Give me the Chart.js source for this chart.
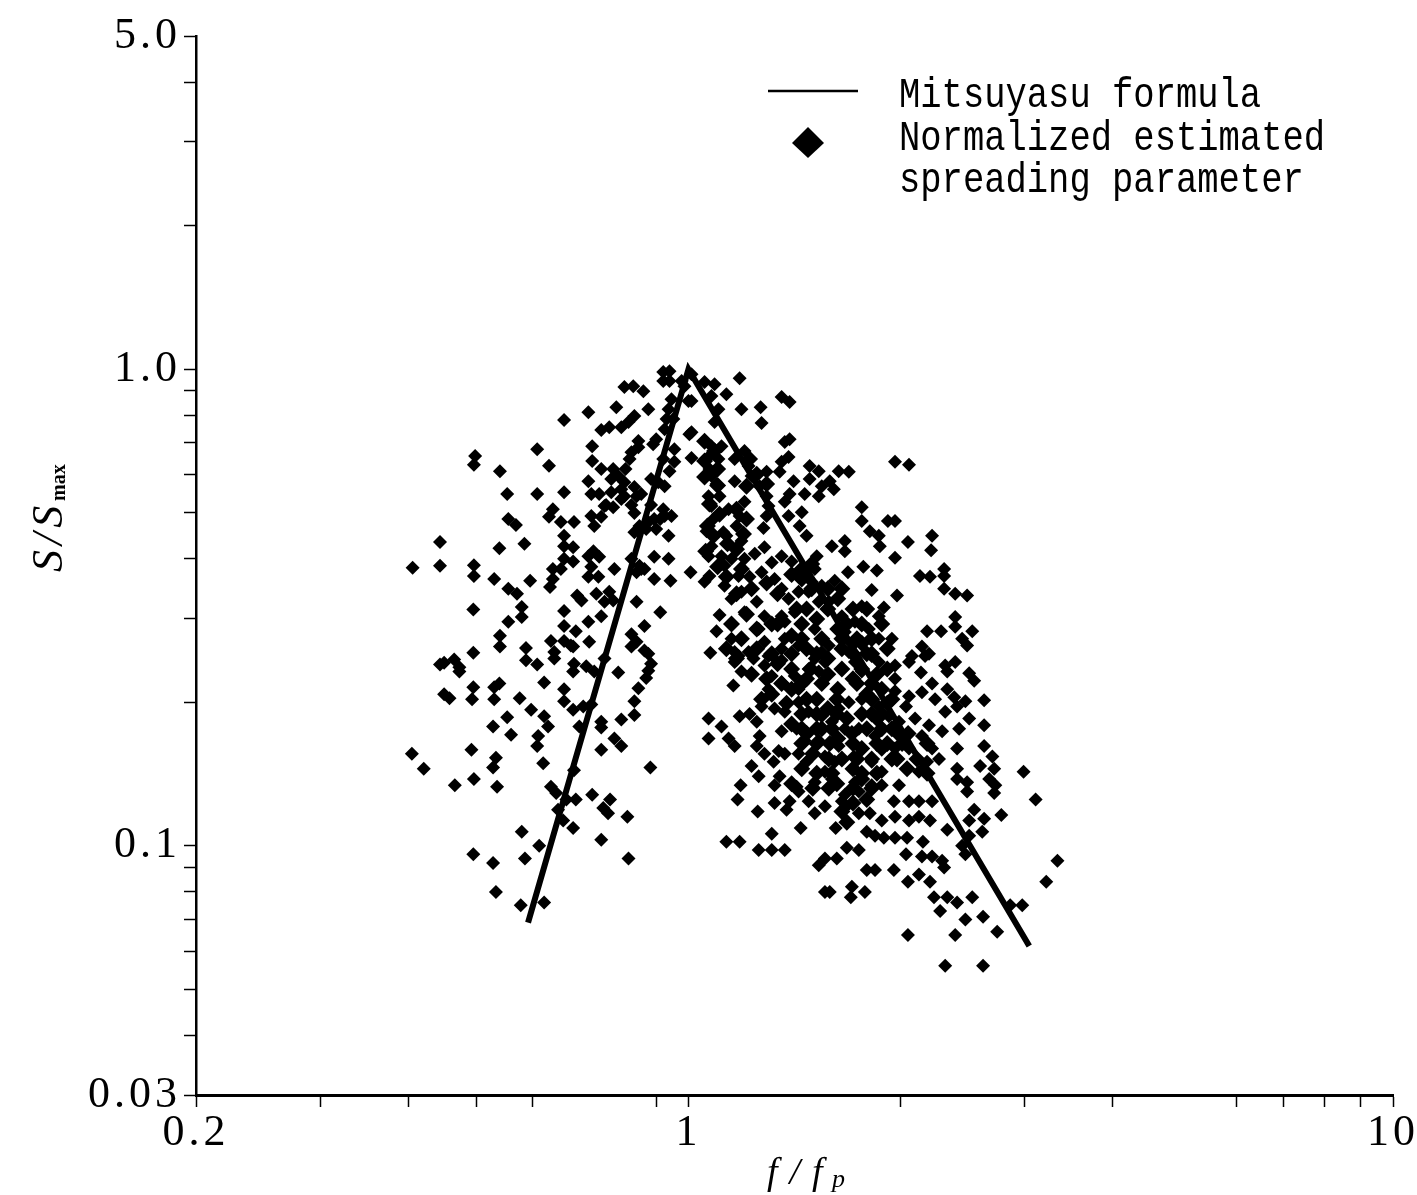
<!DOCTYPE html>
<html>
<head>
<meta charset="utf-8">
<title>S/Smax vs f/fp</title>
<script src="https://cdn.jsdelivr.net/npm/chart.js@4"></script>
<style>
  html, body { margin: 0; padding: 0; background: #fff; }
  canvas { display: block; }
</style>
</head>
<body>
<canvas id="mycanvas" width="1417" height="1195"></canvas>
<script>
var xTicks = [0.2, 0.3, 0.4, 0.5, 0.6, 0.9, 1, 2, 3, 4, 6, 7, 8, 9, 10];
var xLabels = { 0.2: '0.2', 1: '1', 10: '10' };
var yTicks = [5, 4, 3, 2, 1, 0.9, 0.8, 0.7, 0.6, 0.5, 0.4, 0.3, 0.2, 0.1, 0.09, 0.08, 0.07, 0.06, 0.05, 0.04, 0.03];
var yLabels = { 5: '5.0', 1: '1.0', 0.1: '0.1', 0.03: '0.03' };

var lineFreq = [0.592, 1, 3.046];
var lineSpread = [0.069, 1, 0.0616];

// f/fp below the peak, [f/fp, S/Smax]
var pointsBelowPeak = [
  [.921,.986],[.94,.99],[.921,.944],[.94,.944],[.978,.944],[.811,.917],[.835,.921],[.863,.899],[.79,.832],[.721,.812],
  [.666,.782],[.877,.824],[.838,.797],[.822,.775],[.803,.755],[.772,.755],[.752,.745],[.946,.865],[.937,.824],[.931,.786],
  [.925,.748],[1.0,.857],[.849,.707],[.83,.669],[.849,.686],[.825,.648],[.891,.696],[.73,.689],[.61,.679],[.498,.657],
  [.496,.63],[.54,.611],[.634,.627],[.73,.642],[.955,.679],[.955,.639],[.94,.611],[.921,.648],[.752,.617],[.782,.617],
  [.795,.597],[.721,.582],[.811,.579],[.838,.566],[.844,.541],[.811,.541],[.777,.552],[.747,.547],[.728,.547],[.76,.516],
  [.782,.513],[.803,.534],[.553,.547],[.61,.547],[.666,.552],[.925,.568],[.906,.579],[.642,.508],[.634,.49],[.659,.478],
  [.688,.478],[.728,.492],[.735,.469],[.752,.49],[.838,.499],[.555,.485],[.569,.471],[.925,.492],[.894,.485],[.877,.478],
  [.946,.492],[.852,.469],[.838,.455],[.921,.508],[.666,.447],[.666,.425],[.686,.423],[.937,.447],[.444,.434],[.539,.421],
  [.585,.43],[.733,.415],[.721,.405],[.747,.404],[.728,.385],[.721,.367],[.745,.367],[.894,.404],[.937,.40],[.852,.387],
  [.83,.40],[.866,.381],[.844,.375],[.406,.383],[.444,.387],[.496,.388],[.496,.368],[.666,.40],[.686,.395],[.642,.381],
  [.659,.381],[.642,.363],[.636,.349],[.785,.381],[.53,.363],[.596,.36],[.894,.363],[.943,.36],[.555,.346],[.571,.338],
  [.695,.335],[.705,.327],[.74,.338],[.772,.341],[.76,.325],[.782,.327],[.844,.325],[.495,.313],[.58,.317],[.58,.302],
  [.666,.311],[.912,.309],[.555,.295],[.752,.303],[.721,.295],[.666,.289],[.692,.282],[.866,.289],[.83,.278],[.844,.268],
  [.54,.276],[.54,.262],[.638,.269],[.666,.269],[.723,.268],[.588,.26],[.495,.254],[.83,.262],[.866,.257],[.645,.255],
  [.681,.263],[.45,.242],[.465,.246],[.444,.24],[.473,.237],[.473,.232],[.645,.247],[.686,.262],[.61,.24],[.588,.245],
  [.688,.241],[.716,.238],[.735,.232],[.686,.232],[.877,.253],[.885,.241],[.877,.233],[.795,.231],[.76,.247],[.871,.225],
  [.849,.214],[.838,.201],[.838,.188],[.624,.22],[.666,.213],[.666,.201],[.495,.215],[.493,.203],[.53,.215],[.539,.219],
  [.53,.203],[.45,.208],[.458,.204],[.576,.204],[.598,.193],[.686,.193],[.709,.196],[.728,.198],[.624,.187],[.632,.178],
  [.612,.17],[.61,.162],[.553,.186],[.528,.178],[.56,.171],[.752,.182],[.752,.177],[.803,.184],[.70,.178],[.785,.168],
  [.803,.162],[.492,.159],[.752,.159],[.405,.156],[.533,.153],[.528,.146],[.622,.149],[.421,.145],[.883,.146],[.688,.144],
  [.466,.134],[.496,.138],[.535,.133],[.638,.133],[.649,.129],[.692,.125],[.671,.125],[.73,.128],[.774,.125],[.757,.12],
  [.769,.117],[.819,.115],[.653,.119],[.664,.113],[.686,.109],[.58,.107],[.752,.103],[.614,.1],[.495,.096],[.586,.094],
  [.528,.092],[.822,.094],[.533,.08],[.578,.075],[.624,.076],
  [.777,.588],[.803,.56],[.764,.519],[.83,.519],[.814,.617],[.857,.547],[.885,.588],[.90,.713],[.952,.786],[.885,.519],
  [.912,.485],[.871,.462],[.90,.462],[.857,.381]
];

// f/fp at and above the peak, [f/fp, S/Smax]
var pointsAbovePeak = [
  [1.01,.976],[.987,.921],[1.054,.94],[1.089,.93],[1.182,.957],[1.078,.878],[1.103,.824],[1.089,.775],[1.132,.886],[1.01,.857],
  [1.189,.824],[1.266,.832],[1.27,.771],[1.356,.874],[1.392,.853],[1.01,.737],[1.003,.73],[1.37,.703],[1.392,.713],[1.078,.689],
  [1.114,.689],[1.071,.657],[1.103,.648],[1.071,.617],[1.096,.574],[1.078,.597],[1.201,.673],[1.163,.648],[1.217,.626],[1.229,.597],
  [1.163,.582],[1.262,.568],[1.291,.541],[1.291,.609],[1.01,.651],[1.387,.654],[1.356,.639],[1.347,.609],[1.486,.626],[1.531,.611],
  [1.486,.588],[1.41,.582],[1.634,.611],[1.689,.609],[1.587,.582],[1.546,.568],[1.608,.56],[1.531,.541],[1.964,.639],[2.056,.63],
  [1.392,.547],[1.37,.527],[1.387,.492],[1.462,.547],[1.068,.541],[1.107,.541],[1.078,.516],[1.085,.485],[1.201,.527],[1.182,.492],
  [1.14,.508],[1.17,.469],[1.121,.455],[1.448,.501],[1.438,.469],[1.471,.447],[1.299,.516],[1.291,.492],[1.278,.464],[1.762,.513],
  [1.762,.48],[1.919,.48],[1.964,.48],[1.809,.457],[1.863,.447],[1.869,.425],[1.061,.457],[1.132,.447],[1.189,.436],[2.049,.434],
  [2.217,.447],[2.21,.417],[1.667,.436],[1.598,.425],[1.667,.415],[1.078,.425],[1.068,.405],[1.114,.405],[1.282,.423],[1.242,.41],
  [1.201,.40],[1.151,.40],[1.521,.405],[1.356,.405],[1.401,.395],[1.313,.393],[1.964,.402],[1.125,.387],[1.771,.385],[1.851,.378],
  [1.684,.375],[1.613,.36],[1.007,.375],[1.071,.368],[1.054,.358],[1.511,.381],[1.462,.368],[1.546,.351],[2.131,.368],[2.202,.367],
  [2.306,.381],[2.306,.368],[2.306,.346],[1.178,.368],[1.27,.375],[1.221,.367],[1.325,.363],[1.125,.351],[1.151,.33],[1.189,.341],
  [1.356,.346],[1.82,.344],[1.977,.335],[2.391,.338],[2.486,.335],[1.496,.358],[1.433,.341],[1.25,.325],[1.201,.309],[1.282,.303],
  [1.387,.33],[1.356,.303],[1.415,.309],[1.481,.341],[1.582,.325],[1.651,.303],[1.531,.325],[1.762,.318],[1.863,.303],[1.894,.316],
  [1.944,.272],[1.107,.305],[2.391,.302],[2.391,.288],[2.181,.282],[2.283,.282],[2.528,.282],[2.446,.272],[2.486,.263],[1.096,.282],
  [1.258,.285],[1.282,.268],[1.151,.272],[1.217,.255],[1.37,.295],[1.37,.272],[1.433,.263],[1.511,.285],[1.582,.263],[1.667,.281],
  [1.723,.295],[1.803,.285],[1.863,.272],[1.074,.254],[2.145,.262],[2.195,.253],[2.076,.25],[1.163,.255],[1.356,.259],[1.546,.255],
  [1.689,.255],[1.82,.25],[1.178,.25],[1.237,.247],[1.299,.25],[1.163,.243],[1.189,.232],[1.282,.239],[1.356,.245],[1.511,.247],
  [1.562,.243],[1.158,.217],[1.964,.239],[2.056,.243],[1.964,.224],[1.964,.211],[2.167,.25],[2.314,.239],[2.391,.243],[2.33,.232],
  [2.138,.231],[2.503,.23],[2.544,.222],[2.217,.219],[2.33,.213],[2.384,.205],[2.472,.201],[2.628,.202],[2.406,.196],[1.313,.227],
  [1.299,.213],[1.356,.22],[1.415,.227],[1.481,.235],[1.531,.232],[1.433,.213],[1.546,.22],[1.651,.235],[1.723,.243],[1.762,.232],
  [1.82,.22],[1.863,.243],[2.056,.206],[2.145,.21],[2.239,.203],[2.314,.191],[2.036,.196],[2.503,.185],[2.628,.179],[2.422,.176],
  [2.291,.174],[2.195,.179],[2.097,.185],[1.27,.196],[1.325,.194],[1.37,.191],[1.221,.189],[1.182,.187],[1.25,.182],[1.068,.185],
  [1.114,.178],[1.068,.168],[1.14,.168],[1.163,.162],[1.433,.2],[1.481,.191],[1.546,.187],[1.634,.194],[1.689,.2],[1.762,.203],
  [1.863,.196],[1.925,.187],[1.99,.182],[1.356,.174],[1.424,.176],[1.462,.166],[1.531,.166],[1.598,.182],[1.667,.176],[1.745,.176],
  [1.84,.17],[1.262,.17],[1.25,.162],[1.282,.156],[1.343,.158],[1.37,.156],[1.321,.15],[1.433,.156],[1.471,.15],[1.562,.154],
  [1.613,.15],[1.634,.162],[1.717,.154],[1.82,.15],[1.881,.159],[1.964,.16],[1.881,.143],[2.01,.168],[2.056,.16],[1.99,.17],
  [2.145,.17],[2.217,.16],[2.181,.15],[2.268,.152],[2.124,.143],[2.406,.16],[2.628,.162],[2.7,.154],[2.594,.147],[2.716,.145],
  [1.229,.147],[1.258,.14],[2.406,.145],[2.406,.138],[2.486,.136],[2.486,.13],[2.672,.138],[2.726,.134],[2.716,.129],[1.186,.134],
  [1.174,.125],[1.347,.14],[1.424,.133],[1.325,.134],[1.433,.13],[1.392,.124],[1.325,.123],[1.378,.119],[1.481,.124],[1.562,.143],
  [1.511,.136],[1.598,.138],[1.723,.136],[1.667,.128],[1.745,.13],[1.667,.12],[1.82,.134],[1.651,.124],[1.957,.124],[2.056,.124],
  [2.124,.124],[2.217,.124],[1.881,.134],[1.99,.134],[1.511,.117],[1.562,.121],[1.254,.118],[1.745,.117],[1.809,.117],[1.881,.113],
  [1.964,.115],[2.056,.113],[2.124,.115],[2.202,.113],[2.544,.119],[2.628,.114],[2.503,.113],[2.78,.116],[2.99,.143],[3.11,.125],
  [1.313,.106],[1.443,.109],[1.618,.109],[1.791,.107],[1.84,.105],[1.894,.104],[1.964,.104],[2.043,.104],[2.33,.108],[2.612,.107],
  [2.503,.105],[2.446,.1],[2.472,.096],[1.132,.102],[1.182,.102],[1.258,.098],[1.313,.098],[1.37,.098],[1.678,.099],[1.745,.098],
  [2.152,.102],[2.036,.096],[2.145,.095],[2.217,.095],[2.291,.093],[2.306,.09],[1.562,.094],[1.624,.094],[1.531,.091],[1.791,.089],
  [1.84,.089],[1.957,.089],[2.049,.084],[2.124,.087],[2.202,.084],[3.34,.093],[3.22,.084],[1.587,.08],[1.562,.08],[1.706,.082],
  [1.7,.078],[1.78,.08],[2.231,.078],[2.33,.078],[2.406,.076],[2.528,.078],[2.276,.073],[2.977,.075],[2.862,.075],[2.472,.07],
  [2.619,.071],[2.743,.066],[2.049,.065],[2.391,.065],[2.314,.056],[2.619,.056]
];

// the overlapped core right of the peak, read where the marks run together
var pointsDenseCore = [
  [1.054,.706],[1.089,.673],[1.054,.642],[1.10,.617],[1.054,.594],[1.10,.57],[1.071,.521],[1.107,.496],[1.064,.469],[1.085,.447],
  [1.058,.415],[1.10,.385],[1.136,.43],[1.17,.508],[1.209,.485],[1.197,.451],[1.17,.419],[1.221,.648],[1.25,.602],[1.209,.568],
  [1.291,.574],[1.132,.367],[1.189,.381],[1.229,.346],[1.291,.356],[1.338,.338],[1.401,.371],[1.448,.363],[1.496,.39],[1.471,.314],
  [1.521,.299],[1.577,.346],[1.629,.33],[1.712,.314],[1.762,.292],[1.82,.272],[1.881,.292],[1.209,.306],[1.25,.285],[1.313,.292],
  [1.401,.276],[1.448,.292],[1.546,.272],[1.629,.285],[1.712,.266],[1.791,.253],[1.189,.272],[1.25,.259],[1.338,.241],[1.401,.253],
  [1.471,.259],[1.577,.247],[1.651,.259],[1.762,.266],[1.851,.229],[1.915,.259],[1.229,.229],[1.291,.224],[1.401,.213],[1.471,.224],
  [1.577,.229],[1.629,.213],[1.712,.224],[1.791,.208],[1.881,.213],[1.915,.199],[1.313,.208],[1.378,.199],[1.448,.189],[1.521,.203],
  [1.577,.194],[1.678,.185],[1.762,.189],[1.851,.185],[1.944,.176],[2.05,.172],[1.401,.18],[1.471,.172],[1.546,.176],[1.629,.168],
  [1.706,.172],[1.762,.16],[1.915,.164],[1.977,.152],[2.043,.145],[2.11,.152],[2.181,.142],[2.181,.164],[1.501,.156],[1.587,.164],
  [1.651,.152],[1.712,.145],[1.521,.142],[1.624,.135],[1.712,.132],[1.762,.138],[1.791,.125],[1.651,.118],[1.712,.123],[1.678,.112],
  [1.448,.145],[1.401,.135],[1.501,.132],[1.17,.338],[1.151,.292],[1.17,.247],[1.132,.259],
  [1.424,.314],[1.577,.314],[1.791,.314],[1.338,.292],[1.678,.292],[1.448,.272],[1.651,.272],[1.734,.272],[1.313,.253],[1.521,.253],
  [1.712,.253],[1.82,.253],[1.401,.235],[1.491,.235],[1.651,.235],[1.762,.235],[1.915,.235],[1.356,.219],[1.448,.219],[1.546,.219],
  [1.734,.219],[1.82,.219],[1.27,.203],[1.471,.203],[1.624,.203],[1.82,.203],[1.944,.203],[1.521,.189],[1.624,.189],[1.82,.189],
  [1.881,.189],[1.448,.176],[1.521,.176],[1.598,.176],[1.791,.176],[1.881,.176],[1.448,.164],[1.521,.164],[1.712,.164],[1.851,.164],
  [2.01,.164],[1.582,.152],[1.734,.152],[1.82,.152],[1.944,.152],[1.598,.142],[1.762,.142],[1.851,.142],[1.582,.132],[1.82,.132],
  [1.496,.346],[1.651,.346],[1.448,.381]
];

var legendLines = ['Mitsuyasu formula', 'Normalized estimated', 'spreading parameter'];
var monoFont = '"Liberation Mono", monospace';
var serifFont = '"Liberation Serif", serif';

// wide gaps between the printed digits
var digitSpacing = {
  id: 'digitSpacing',
  beforeDraw: function(chart) {
    chart.ctx.letterSpacing = '4px';
  }
};

// legend and the two axis titles sit at fixed spots, as in the printed figure
var annotations = {
  id: 'annotations',
  afterDraw: function(chart) {
    var ctx = chart.ctx;
    ctx.save();
    ctx.letterSpacing = '0px';
    ctx.fillStyle = '#000';
    ctx.strokeStyle = '#000';

    ctx.lineWidth = 2.5;
    ctx.beginPath();
    ctx.moveTo(768, 91);
    ctx.lineTo(858, 91);
    ctx.stroke();

    ctx.beginPath();
    ctx.moveTo(808, 127);
    ctx.lineTo(824, 143);
    ctx.lineTo(808, 158);
    ctx.lineTo(792, 143);
    ctx.closePath();
    ctx.fill();

    ctx.font = '35.5px ' + monoFont;
    ctx.textAlign = 'left';
    ctx.textBaseline = 'alphabetic';
    for (var i = 0; i < legendLines.length; i++) {
      ctx.save();
      ctx.translate(899, 107 + i * 42.5);
      ctx.scale(1, 1.18);
      ctx.fillText(legendLines[i], 0, 0);
      ctx.restore();
    }

    ctx.letterSpacing = '12px';
    ctx.font = 'italic 38px ' + serifFont;
    ctx.fillText('f/f', 767, 1184);
    ctx.letterSpacing = '0px';
    ctx.font = 'italic 26px ' + serifFont;
    ctx.fillText('p', 832, 1187);

    ctx.translate(62, 572);
    ctx.rotate(-Math.PI / 2);
    ctx.letterSpacing = '5px';
    ctx.font = 'italic 44px ' + serifFont;
    ctx.fillText('S/S', 0, 0);
    ctx.letterSpacing = '0px';
    ctx.font = 'bold 20px ' + serifFont;
    ctx.fillText('max', 71, 3);
    ctx.restore();
  }
};

function toXY(pair) {
  return { x: pair[0], y: pair[1] };
}

var ctx = document.getElementById('mycanvas').getContext('2d');
var myChart = new Chart(ctx, {
  type: 'scatter',
  data: {
    datasets: [{
      label: 'Normalized estimated spreading parameter',
      data: pointsBelowPeak.concat(pointsAbovePeak).map(toXY),
      pointStyle: 'rectRot',
      pointRadius: 7,
      backgroundColor: '#000',
      borderColor: '#000',
      borderWidth: 0
    }, {
      label: 'Normalized estimated spreading parameter (core)',
      data: pointsDenseCore.map(toXY),
      pointStyle: 'rectRot',
      pointRadius: 8.5,
      backgroundColor: '#000',
      borderColor: '#000',
      borderWidth: 0
    }, {
      label: 'Mitsuyasu formula',
      type: 'line',
      data: lineFreq.map(function(f, i) { return { x: f, y: lineSpread[i] }; }),
      borderColor: '#000',
      borderWidth: 6,
      pointRadius: 0,
      tension: 0
    }]
  },
  plugins: [digitSpacing, annotations],
  options: {
    responsive: false,
    animation: false,
    layout: { padding: { left: 0, right: 24, top: 36, bottom: 0 } },
    plugins: { legend: { display: false }, tooltip: { enabled: false } },
    scales: {
      x: {
        type: 'logarithmic',
        min: 0.2,
        max: 10,
        afterBuildTicks: function(scale) {
          scale.ticks = xTicks.map(function(v) { return { value: v }; });
        },
        afterFit: function(scale) { scale.height = 100; },
        border: { color: '#000', width: 3 },
        grid: { drawOnChartArea: false, color: '#000', tickLength: 12, tickWidth: 1.5 },
        ticks: {
          color: '#000',
          font: { family: serifFont, size: 44 },
          padding: 0,
          autoSkip: false,
          maxRotation: 0,
          callback: function(value) { return xLabels[value] || ''; }
        }
      },
      y: {
        type: 'logarithmic',
        min: 0.03,
        max: 5,
        afterBuildTicks: function(scale) {
          scale.ticks = yTicks.map(function(v) { return { value: v }; });
        },
        afterFit: function(scale) { scale.width = 196; },
        border: { color: '#000', width: 2.5 },
        grid: { drawOnChartArea: false, color: '#000', tickLength: 12, tickWidth: 1.5 },
        ticks: {
          color: '#000',
          font: { family: serifFont, size: 44 },
          padding: 3,
          autoSkip: false,
          callback: function(value) { return yLabels[value] || ''; }
        }
      }
    }
  }
});
</script>
</body>
</html>
